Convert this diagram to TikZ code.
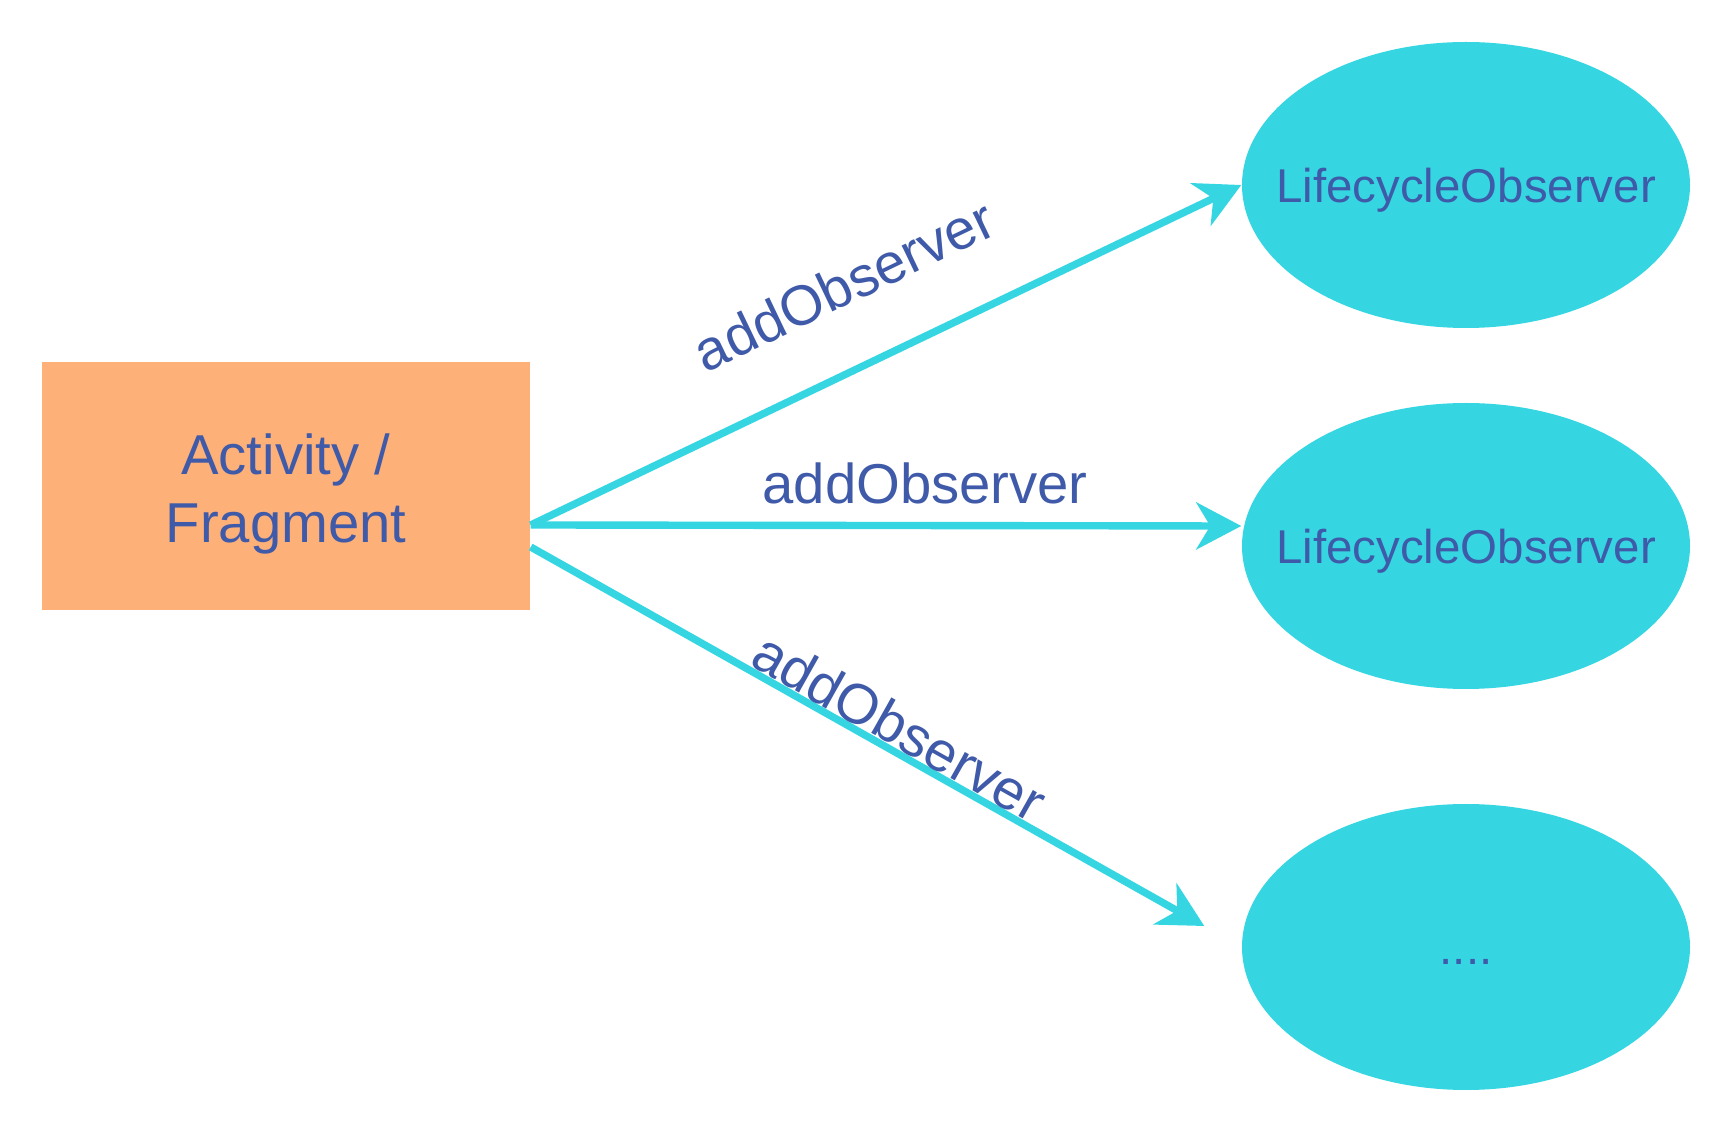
\documentclass[tikz,border=0pt]{standalone}
\usepackage{fontspec}
\setmainfont{Liberation Sans}
\usetikzlibrary{shapes.geometric,arrows.meta}
\definecolor{boxorange}{HTML}{FDB077}
\definecolor{obscyan}{HTML}{35D6E2}
\definecolor{txtblue}{HTML}{3F5AA8}

\begin{document}
\begin{tikzpicture}
\useasboundingbox (0,0) rectangle (17.28,11.28);
\tikzstyle{every node} = [text=txtblue]
\tikzstyle{owner} = [fill=boxorange, minimum width=4.88cm, minimum height=2.48cm, inner sep=0pt]
\tikzstyle{ownertext} = [inner sep=0pt, align=center, font=\fontsize{16}{19.5}\selectfont]
\tikzstyle{obs} = [ellipse, fill=obscyan, minimum width=4.48cm, minimum height=2.86cm, inner ysep=0pt, inner xsep=-3.4mm, text height=2.15ex, text depth=.25ex, font=\fontsize{13.5}{16}\selectfont]
\tikzstyle{link} = [draw=obscyan, line width=2.1pt, -{Stealth[length=4.5mm,width=4.7mm,inset=1.4mm]}]
\tikzstyle{lbl} = [inner sep=0pt, font=\fontsize{16}{19}\selectfont]
\node[owner] (act) at (2.86, 6.42) {};
\node[ownertext] (acttext) at ([yshift=-0.08cm]act.center) {Activity /\\Fragment};
\node[obs] (obs1) at (14.66, 9.43) {LifecycleObserver};
\node[obs] (obs2) at (14.66, 5.82) {LifecycleObserver};
\node[obs] (obs3) at (14.66, 1.81) {....};
% start / end points of the arrows
\coordinate (s1) at ([yshift=-0.39cm]act.east);
\coordinate (s2) at ([yshift=-0.39cm]act.east);
\coordinate (s3) at ([yshift=-0.61cm]act.east);
\coordinate (e1) at (obs1.west);
\coordinate (e2) at ([yshift=0.2cm]obs2.west);
\coordinate (e3) at ([xshift=-0.37cm, yshift=0.21cm]obs3.west);
\foreach \from/\to/\p/\d in {s1/e1/.49/.57cm, s2/e2/.555/.18cm, s3/e3/.53/0cm}
\draw[link] (\from) -- node[lbl, pos=\p, sloped, above=\d] {addObserver} (\to);
\end{tikzpicture}
\end{document}
